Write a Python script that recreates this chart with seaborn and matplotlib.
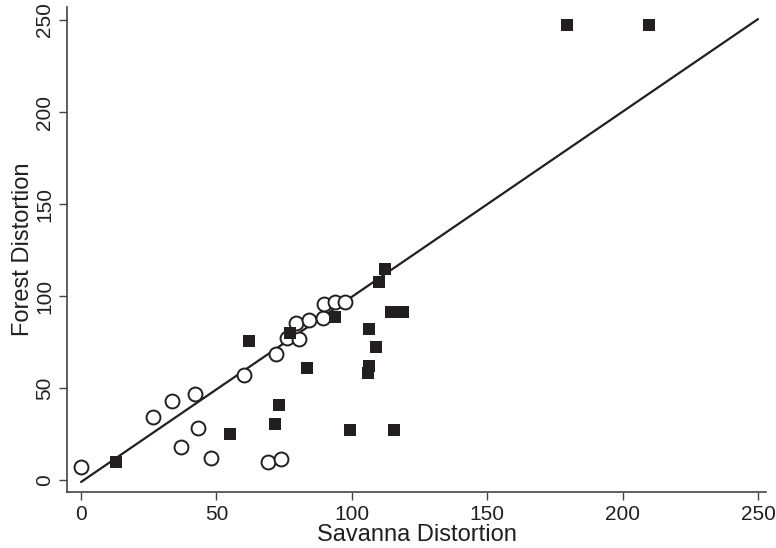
import numpy as np
import pandas as pd
import matplotlib
matplotlib.use('Agg')
import matplotlib.pyplot as plt
import seaborn as sns

# open circles
circle_x = [0.0, 26.4, 33.5, 42.2, 43.2, 37.0, 48.1, 60.0, 69.0, 74.0,
            72.0, 76.1, 80.6, 79.4, 84.3, 89.2, 89.6, 93.7, 97.4]
circle_y = [7.2, 34.4, 42.9, 46.7, 28.6, 18.1, 12.3, 57.1, 9.9, 11.4,
            68.5, 77.0, 76.5, 85.5, 87.0, 87.9, 95.5, 96.6, 96.6]

# filled squares
square_x = [12.8, 54.9, 62.2, 73.0, 71.5, 77.0, 83.3, 93.7, 99.5, 115.5,
            112.2, 110.0, 114.5, 118.8, 106.3, 109.1, 106.3, 105.9, 179.5, 209.8]
square_y = [9.6, 24.8, 75.5, 40.7, 30.3, 80.1, 60.7, 88.4, 27.5, 27.5,
            114.7, 107.8, 91.5, 91.1, 81.9, 72.5, 62.0, 58.3, 247.1, 247.1]

# fitted line end points
line_x = [0, 250]
line_y = [-1, 250.5]

ticks = [0, 50, 100, 150, 200, 250]

sns.set_style('ticks')
plt.rcParams['font.family'] = ['Liberation Sans', 'DejaVu Sans']
ink = '#231f20'

fig = plt.figure(figsize=(7.76, 5.48), dpi=100)
ax = fig.add_axes([0.0863, 0.102, 0.901, 0.885])

df_c = pd.DataFrame({'x': circle_x, 'y': circle_y})
df_s = pd.DataFrame({'x': square_x, 'y': square_y})
df_l = pd.DataFrame({'x': line_x, 'y': line_y})

sns.lineplot(data=df_l, x='x', y='y', ax=ax, color=ink, linewidth=1.6, zorder=2)
sns.scatterplot(data=df_c, x='x', y='y', ax=ax, marker='o', s=100,
                facecolor='white', edgecolor=ink, linewidth=1.4, zorder=3)
sns.scatterplot(data=df_s, x='x', y='y', ax=ax, marker='s', s=85,
                color=ink, edgecolor=ink, linewidth=0, zorder=3)

ax.set_xlim(-5.2, 253)
ax.set_ylim(-6.5, 257)
ax.set_xticks(ticks)
ax.set_yticks(ticks)
ax.set_xticklabels([str(t) for t in ticks], fontsize=15, color=ink)
ax.set_yticklabels([str(t) for t in ticks], fontsize=15, color=ink,
                   rotation=90, va='center')
ax.tick_params(axis='both', length=6, width=1, color='#444444', pad=3)
ax.set_xlabel('Savanna Distortion', fontsize=17, color=ink, labelpad=0)
ax.set_ylabel('Forest Distortion', fontsize=17, color=ink, labelpad=1)

sns.despine(ax=ax)
for sp in ['left', 'bottom']:
    ax.spines[sp].set_color('#444444')
    ax.spines[sp].set_linewidth(1.2)

fig.savefig('out.png', dpi=100)
